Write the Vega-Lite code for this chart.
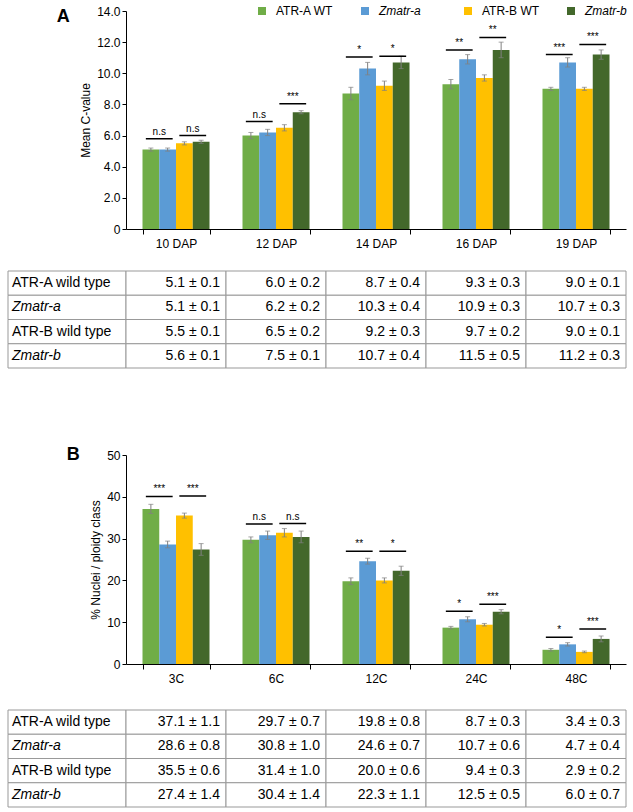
{
  "$schema": "https://vega.github.io/schema/vega-lite/v6.json",
  "autosize": {"type": "pad"},
  "padding": {"left": 7, "top": 5, "right": 0, "bottom": 0},
  "config": {
    "font": "Liberation Sans",
    "view": {"stroke": null},
    "axis": {"domainColor": "#000", "tickColor": "#000", "labelColor": "#000", "titleColor": "#000", "labelFontSize": 12, "titleFontSize": 12, "titleFontWeight": "normal", "grid": false, "labelFont": "Liberation Sans", "titleFont": "Liberation Sans"},
    "legend": {"labelFont": "Liberation Sans", "labelColor": "#000"}
  },
  "datasets": {
    "a": [
      {"time": "10 DAP", "genotype": "ATR-A WT", "mean": 5.1, "sd": 0.1},
      {"time": "10 DAP", "genotype": "Zmatr-a", "mean": 5.1, "sd": 0.1},
      {"time": "10 DAP", "genotype": "ATR-B WT", "mean": 5.5, "sd": 0.1},
      {"time": "10 DAP", "genotype": "Zmatr-b", "mean": 5.6, "sd": 0.1},
      {"time": "12 DAP", "genotype": "ATR-A WT", "mean": 6.0, "sd": 0.2},
      {"time": "12 DAP", "genotype": "Zmatr-a", "mean": 6.2, "sd": 0.2},
      {"time": "12 DAP", "genotype": "ATR-B WT", "mean": 6.5, "sd": 0.2},
      {"time": "12 DAP", "genotype": "Zmatr-b", "mean": 7.5, "sd": 0.1},
      {"time": "14 DAP", "genotype": "ATR-A WT", "mean": 8.7, "sd": 0.4},
      {"time": "14 DAP", "genotype": "Zmatr-a", "mean": 10.3, "sd": 0.4},
      {"time": "14 DAP", "genotype": "ATR-B WT", "mean": 9.2, "sd": 0.3},
      {"time": "14 DAP", "genotype": "Zmatr-b", "mean": 10.7, "sd": 0.4},
      {"time": "16 DAP", "genotype": "ATR-A WT", "mean": 9.3, "sd": 0.3},
      {"time": "16 DAP", "genotype": "Zmatr-a", "mean": 10.9, "sd": 0.3},
      {"time": "16 DAP", "genotype": "ATR-B WT", "mean": 9.7, "sd": 0.2},
      {"time": "16 DAP", "genotype": "Zmatr-b", "mean": 11.5, "sd": 0.5},
      {"time": "19 DAP", "genotype": "ATR-A WT", "mean": 9.0, "sd": 0.1},
      {"time": "19 DAP", "genotype": "Zmatr-a", "mean": 10.7, "sd": 0.3},
      {"time": "19 DAP", "genotype": "ATR-B WT", "mean": 9.0, "sd": 0.1},
      {"time": "19 DAP", "genotype": "Zmatr-b", "mean": 11.2, "sd": 0.3}
    ],
    "b": [
      {"time": "3C", "genotype": "ATR-A WT", "mean": 37.1, "sd": 1.1},
      {"time": "3C", "genotype": "Zmatr-a", "mean": 28.6, "sd": 0.8},
      {"time": "3C", "genotype": "ATR-B WT", "mean": 35.5, "sd": 0.6},
      {"time": "3C", "genotype": "Zmatr-b", "mean": 27.4, "sd": 1.4},
      {"time": "6C", "genotype": "ATR-A WT", "mean": 29.7, "sd": 0.7},
      {"time": "6C", "genotype": "Zmatr-a", "mean": 30.8, "sd": 1.0},
      {"time": "6C", "genotype": "ATR-B WT", "mean": 31.4, "sd": 1.0},
      {"time": "6C", "genotype": "Zmatr-b", "mean": 30.4, "sd": 1.4},
      {"time": "12C", "genotype": "ATR-A WT", "mean": 19.8, "sd": 0.8},
      {"time": "12C", "genotype": "Zmatr-a", "mean": 24.6, "sd": 0.7},
      {"time": "12C", "genotype": "ATR-B WT", "mean": 20.0, "sd": 0.6},
      {"time": "12C", "genotype": "Zmatr-b", "mean": 22.3, "sd": 1.1},
      {"time": "24C", "genotype": "ATR-A WT", "mean": 8.7, "sd": 0.3},
      {"time": "24C", "genotype": "Zmatr-a", "mean": 10.7, "sd": 0.6},
      {"time": "24C", "genotype": "ATR-B WT", "mean": 9.4, "sd": 0.3},
      {"time": "24C", "genotype": "Zmatr-b", "mean": 12.5, "sd": 0.5},
      {"time": "48C", "genotype": "ATR-A WT", "mean": 3.4, "sd": 0.3},
      {"time": "48C", "genotype": "Zmatr-a", "mean": 4.7, "sd": 0.4},
      {"time": "48C", "genotype": "ATR-B WT", "mean": 2.9, "sd": 0.2},
      {"time": "48C", "genotype": "Zmatr-b", "mean": 6.0, "sd": 0.7}
    ],
    "annA": [
      {"time": "10 DAP", "pair": "A", "y": 5.8, "label": "n.s"},
      {"time": "10 DAP", "pair": "B", "y": 6.0, "label": "n.s"},
      {"time": "12 DAP", "pair": "A", "y": 6.9, "label": "n.s"},
      {"time": "12 DAP", "pair": "B", "y": 8.05, "label": "***"},
      {"time": "14 DAP", "pair": "A", "y": 11.05, "label": "*"},
      {"time": "14 DAP", "pair": "B", "y": 11.1, "label": "*"},
      {"time": "16 DAP", "pair": "A", "y": 11.5, "label": "**"},
      {"time": "16 DAP", "pair": "B", "y": 12.3, "label": "**"},
      {"time": "19 DAP", "pair": "A", "y": 11.2, "label": "***"},
      {"time": "19 DAP", "pair": "B", "y": 11.85, "label": "***"}
    ],
    "annB": [
      {"time": "3C", "pair": "A", "y": 40.1, "label": "***"},
      {"time": "3C", "pair": "B", "y": 40.2, "label": "***"},
      {"time": "6C", "pair": "A", "y": 33.5, "label": "n.s"},
      {"time": "6C", "pair": "B", "y": 33.6, "label": "n.s"},
      {"time": "12C", "pair": "A", "y": 27.0, "label": "**"},
      {"time": "12C", "pair": "B", "y": 27.0, "label": "*"},
      {"time": "24C", "pair": "A", "y": 12.6, "label": "*"},
      {"time": "24C", "pair": "B", "y": 14.3, "label": "***"},
      {"time": "48C", "pair": "A", "y": 6.4, "label": "*"},
      {"time": "48C", "pair": "B", "y": 8.4, "label": "***"}
    ],
    "rows": [
      {"genotype": "ATR-A WT", "name": "ATR-A wild type"},
      {"genotype": "Zmatr-a", "name": "Zmatr-a"},
      {"genotype": "ATR-B WT", "name": "ATR-B wild type"},
      {"genotype": "Zmatr-b", "name": "Zmatr-b"}
    ]
  },
  "vconcat": [
    {
      "concat": [
        {"width": 118, "height": 218, "data": {"values": []}, "mark": "point"},
        {
          "width": 500, "height": 218,
          "data": {"name": "a"},
          "title": {"text": "A", "orient": "left", "anchor": "end", "angle": 0, "align": "right", "baseline": "top", "fontSize": 18, "fontWeight": "bold", "offset": 9, "frame": "group", "color": "#000", "dy": -3, "dx": 12},
          "encoding": {
            "x": {"field": "time", "type": "nominal", "title": null,
              "scale": {"domain": ["10 DAP", "12 DAP", "14 DAP", "16 DAP", "19 DAP"], "paddingInner": 0.33, "paddingOuter": 0.165},
              "axis": {"labelAngle": 0, "tickBand": "extent", "tickSize": 5, "labelPadding": 4}},
            "y": {"field": "mean", "type": "quantitative", "title": "Mean C-value",
              "scale": {"domain": [0, 14]},
              "axis": {"values": [0, 2, 4, 6, 8, 10, 12, 14], "labelExpr": "datum.value == 0 ? '0' : format(datum.value, '.1f')", "tickSize": 4, "labelPadding": 2, "titlePadding": 4, "labelOverlap": false}}
          },
          "resolve": {"scale": {"xOffset": "independent"}},
          "layer": [
            {
              "mark": {"type": "bar"},
              "encoding": {
                "xOffset": {"field": "genotype", "type": "nominal", "scale": {"domain": ["ATR-A WT", "Zmatr-a", "ATR-B WT", "Zmatr-b"], "paddingInner": 0, "paddingOuter": 0}},
                "color": {"field": "genotype", "type": "nominal",
                  "scale": {"domain": ["ATR-A WT", "Zmatr-a", "ATR-B WT", "Zmatr-b"], "range": ["#70AD47", "#5B9BD5", "#FFC000", "#43682B"]},
                  "legend": {"orient": "none", "legendX": 248, "legendY": -6, "direction": "horizontal", "columns": 4, "title": null, "symbolType": "square", "symbolSize": 64, "symbolStrokeWidth": 0, "labelFontSize": 12, "labelOffset": 8, "gridAlign": "all", "columnPadding": 25, "padding": 0,
                    "labelFontStyle": {"expr": "indexof(datum.label, 'Zmatr') >= 0 ? 'italic' : 'normal'"}}}
              }
            },
            {
              "mark": {"type": "errorbar", "ticks": {"size": 5, "color": "#808080"}, "color": "#808080", "thickness": 1},
              "encoding": {
                "yError": {"field": "sd"},
                "xOffset": {"field": "genotype", "type": "nominal", "scale": {"domain": ["ATR-A WT", "Zmatr-a", "ATR-B WT", "Zmatr-b"], "paddingInner": 0, "paddingOuter": 0}}
              }
            },
            {
              "data": {"name": "annA"},
              "mark": {"type": "rect", "fill": "#000", "stroke": "#000", "strokeWidth": 1.5},
              "encoding": {
                "xOffset": {"field": "pair", "type": "nominal", "scale": {"domain": ["A", "B"], "paddingInner": 0.2, "paddingOuter": 0.1}},
                "y": {"field": "y", "type": "quantitative"},
                "y2": {"field": "y"}
              }
            },
            {
              "data": {"name": "annA"},
              "transform": [{"filter": "datum.pair == 'A'"}],
              "mark": {"type": "text", "baseline": "bottom", "dy": -2, "fontSize": 10, "color": "#000"},
              "encoding": {"x": {"field": "time", "type": "nominal", "bandPosition": 0.25}, "y": {"field": "y", "type": "quantitative"}, "text": {"field": "label"}}
            },
            {
              "data": {"name": "annA"},
              "transform": [{"filter": "datum.pair == 'B'"}],
              "mark": {"type": "text", "baseline": "bottom", "dy": -2, "fontSize": 10, "color": "#000"},
              "encoding": {"x": {"field": "time", "type": "nominal", "bandPosition": 0.75}, "y": {"field": "y", "type": "quantitative"}, "text": {"field": "label"}}
            }
          ]
        },
        {
          "width": 118, "height": 97,
          "data": {"name": "rows"},
          "encoding": {
            "y": {"field": "genotype", "type": "nominal", "axis": null, "scale": {"domain": ["ATR-A WT", "Zmatr-a", "ATR-B WT", "Zmatr-b"], "paddingInner": 0, "paddingOuter": 0}}
          },
          "layer": [
            {"mark": {"type": "rect", "fill": "#fff", "stroke": "#999", "strokeWidth": 1},
             "encoding": {"x": {"datum": "label", "type": "nominal", "axis": null, "scale": {"paddingInner": 0, "paddingOuter": 0}}}},
            {"transform": [{"filter": "indexof(datum.genotype, 'Zmatr') < 0"}],
             "mark": {"type": "text", "align": "left", "dx": 4, "fontSize": 14, "color": "#000"},
             "encoding": {"x": {"datum": "label", "type": "nominal", "bandPosition": 0}, "text": {"field": "name"}}},
            {"transform": [{"filter": "indexof(datum.genotype, 'Zmatr') >= 0"}],
             "mark": {"type": "text", "align": "left", "dx": 4, "fontSize": 14, "fontStyle": "italic", "color": "#000"},
             "encoding": {"x": {"datum": "label", "type": "nominal", "bandPosition": 0}, "text": {"field": "name"}}}
          ]
        },
        {
          "width": 500, "height": 97,
          "data": {"name": "a"},
          "transform": [{"calculate": "format(datum.mean, '.1f') + ' ± ' + format(datum.sd, '.1f')", "as": "txt"}],
          "encoding": {
            "x": {"field": "time", "type": "nominal", "axis": null, "scale": {"domain": ["10 DAP", "12 DAP", "14 DAP", "16 DAP", "19 DAP"], "paddingInner": 0, "paddingOuter": 0}},
            "y": {"field": "genotype", "type": "nominal", "axis": null, "scale": {"domain": ["ATR-A WT", "Zmatr-a", "ATR-B WT", "Zmatr-b"], "paddingInner": 0, "paddingOuter": 0}}
          },
          "layer": [
            {"mark": {"type": "rect", "fill": "#fff", "stroke": "#999", "strokeWidth": 1}},
            {"mark": {"type": "text", "align": "right", "dx": -6, "fontSize": 14, "color": "#000"},
             "encoding": {"x": {"field": "time", "type": "nominal", "bandPosition": 1}, "text": {"field": "txt"}}}
          ]
        }
      ],
      "columns": 2,
      "spacing": {"row": 42, "column": 0},
      "bounds": "flush"
    },
    {
      "concat": [
        {"width": 118, "height": 209, "data": {"values": []}, "mark": "point"},
        {
          "width": 500, "height": 209,
          "data": {"name": "b"},
          "title": {"text": "B", "orient": "left", "anchor": "end", "angle": 0, "align": "right", "baseline": "top", "fontSize": 18, "fontWeight": "bold", "offset": 9, "frame": "group", "color": "#000", "dy": -9, "dx": 12},
          "encoding": {
            "x": {"field": "time", "type": "nominal", "title": null,
              "scale": {"domain": ["3C", "6C", "12C", "24C", "48C"], "paddingInner": 0.33, "paddingOuter": 0.165},
              "axis": {"labelAngle": 0, "tickBand": "extent", "tickSize": 5, "labelPadding": 4}},
            "y": {"field": "mean", "type": "quantitative", "title": "% Nuclei / ploidy class",
              "scale": {"domain": [0, 50]},
              "axis": {"values": [0, 10, 20, 30, 40, 50], "tickSize": 4, "labelPadding": 2, "titlePadding": 4, "labelOverlap": false}}
          },
          "resolve": {"scale": {"xOffset": "independent"}},
          "layer": [
            {
              "mark": {"type": "bar"},
              "encoding": {
                "xOffset": {"field": "genotype", "type": "nominal", "scale": {"domain": ["ATR-A WT", "Zmatr-a", "ATR-B WT", "Zmatr-b"], "paddingInner": 0, "paddingOuter": 0}},
                "color": {"field": "genotype", "type": "nominal",
                  "scale": {"domain": ["ATR-A WT", "Zmatr-a", "ATR-B WT", "Zmatr-b"], "range": ["#70AD47", "#5B9BD5", "#FFC000", "#43682B"]},
                  "legend": {"orient": "none", "legendX": 248, "legendY": -6, "direction": "horizontal", "columns": 4, "title": null, "symbolType": "square", "symbolSize": 64, "symbolStrokeWidth": 0, "labelFontSize": 12, "labelOffset": 8, "gridAlign": "all", "columnPadding": 25, "padding": 0,
                    "labelFontStyle": {"expr": "indexof(datum.label, 'Zmatr') >= 0 ? 'italic' : 'normal'"}}}
              }
            },
            {
              "mark": {"type": "errorbar", "ticks": {"size": 5, "color": "#808080"}, "color": "#808080", "thickness": 1},
              "encoding": {
                "yError": {"field": "sd"},
                "xOffset": {"field": "genotype", "type": "nominal", "scale": {"domain": ["ATR-A WT", "Zmatr-a", "ATR-B WT", "Zmatr-b"], "paddingInner": 0, "paddingOuter": 0}}
              }
            },
            {
              "data": {"name": "annB"},
              "mark": {"type": "rect", "fill": "#000", "stroke": "#000", "strokeWidth": 1.5},
              "encoding": {
                "xOffset": {"field": "pair", "type": "nominal", "scale": {"domain": ["A", "B"], "paddingInner": 0.2, "paddingOuter": 0.1}},
                "y": {"field": "y", "type": "quantitative"},
                "y2": {"field": "y"}
              }
            },
            {
              "data": {"name": "annB"},
              "transform": [{"filter": "datum.pair == 'A'"}],
              "mark": {"type": "text", "baseline": "bottom", "dy": -2, "fontSize": 10, "color": "#000"},
              "encoding": {"x": {"field": "time", "type": "nominal", "bandPosition": 0.25}, "y": {"field": "y", "type": "quantitative"}, "text": {"field": "label"}}
            },
            {
              "data": {"name": "annB"},
              "transform": [{"filter": "datum.pair == 'B'"}],
              "mark": {"type": "text", "baseline": "bottom", "dy": -2, "fontSize": 10, "color": "#000"},
              "encoding": {"x": {"field": "time", "type": "nominal", "bandPosition": 0.75}, "y": {"field": "y", "type": "quantitative"}, "text": {"field": "label"}}
            }
          ]
        },
        {
          "width": 118, "height": 97,
          "data": {"name": "rows"},
          "encoding": {
            "y": {"field": "genotype", "type": "nominal", "axis": null, "scale": {"domain": ["ATR-A WT", "Zmatr-a", "ATR-B WT", "Zmatr-b"], "paddingInner": 0, "paddingOuter": 0}}
          },
          "layer": [
            {"mark": {"type": "rect", "fill": "#fff", "stroke": "#999", "strokeWidth": 1},
             "encoding": {"x": {"datum": "label", "type": "nominal", "axis": null, "scale": {"paddingInner": 0, "paddingOuter": 0}}}},
            {"transform": [{"filter": "indexof(datum.genotype, 'Zmatr') < 0"}],
             "mark": {"type": "text", "align": "left", "dx": 4, "fontSize": 14, "color": "#000"},
             "encoding": {"x": {"datum": "label", "type": "nominal", "bandPosition": 0}, "text": {"field": "name"}}},
            {"transform": [{"filter": "indexof(datum.genotype, 'Zmatr') >= 0"}],
             "mark": {"type": "text", "align": "left", "dx": 4, "fontSize": 14, "fontStyle": "italic", "color": "#000"},
             "encoding": {"x": {"datum": "label", "type": "nominal", "bandPosition": 0}, "text": {"field": "name"}}}
          ]
        },
        {
          "width": 500, "height": 97,
          "data": {"name": "b"},
          "transform": [{"calculate": "format(datum.mean, '.1f') + ' ± ' + format(datum.sd, '.1f')", "as": "txt"}],
          "encoding": {
            "x": {"field": "time", "type": "nominal", "axis": null, "scale": {"domain": ["3C", "6C", "12C", "24C", "48C"], "paddingInner": 0, "paddingOuter": 0}},
            "y": {"field": "genotype", "type": "nominal", "axis": null, "scale": {"domain": ["ATR-A WT", "Zmatr-a", "ATR-B WT", "Zmatr-b"], "paddingInner": 0, "paddingOuter": 0}}
          },
          "layer": [
            {"mark": {"type": "rect", "fill": "#fff", "stroke": "#999", "strokeWidth": 1}},
            {"mark": {"type": "text", "align": "right", "dx": -6, "fontSize": 14, "color": "#000"},
             "encoding": {"x": {"field": "time", "type": "nominal", "bandPosition": 1}, "text": {"field": "txt"}}}
          ]
        }
      ],
      "columns": 2,
      "spacing": {"row": 46, "column": 0},
      "bounds": "flush"
    }
  ],
  "spacing": 77
}
